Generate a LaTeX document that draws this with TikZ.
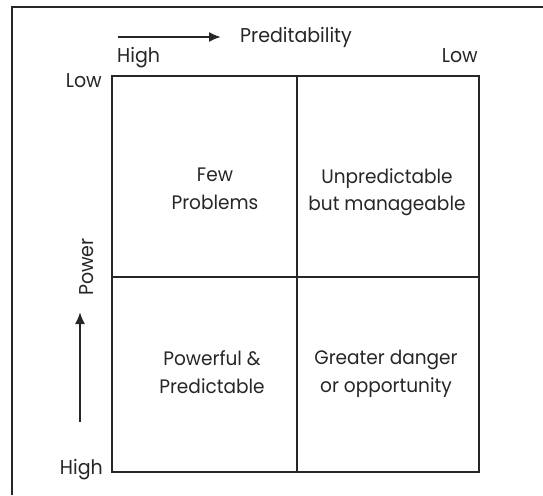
\documentclass[tikz,border=0pt]{standalone}
\usepackage{fontspec}
\setmainfont{Poppins}[FakeStretch=0.95]
\usetikzlibrary{arrows.meta}
\begin{document}
\begin{tikzpicture}[x=1pt,y=-1pt,
  lbl/.style={font=\fontsize{20}{24}\selectfont, inner sep=0pt, text=black!85},
  celltext/.style={font=\fontsize{19.5}{27.5}\selectfont, align=center, inner sep=0pt, text=black!85},
  gridline/.style={line width=1.6pt, black!85},
  axisarrow/.style={line width=2pt, black!85, -{Latex[length=12pt,width=10pt]}}]
\useasboundingbox (0,0) rectangle (543,495);
% outer frame (partially visible)
\draw[line width=1.4pt, black!85] (12,495) -- (12,7) -- (543,7);
% grid
\coordinate (tl) at (112,76);
\coordinate (br) at (479,472);
\draw[gridline] (tl) rectangle (br);
\draw[gridline] (297,76) -- (297,472);
\draw[gridline] (112,277) -- (479,277);
% cell texts
\node[celltext] (c11) at (215,189) {Few\\Problems};
\node[celltext] (c12) at (387,192) {Unpredictable\\but manageable};
\node[celltext] (c21) at (212,372) {Powerful \&\\Predictable};
\node[celltext] (c22) at (386,374) {Greater danger\\or opportunity};
% axis labels
\node[lbl, anchor=base west] (pred) at (240,42) {Preditability};
\coordinate (ha) at (118,37);
\coordinate (hb) at (221,37);
\draw[axisarrow] (ha) -- (hb);
\node[lbl, anchor=base west] (hhigh) at (117,63) {High};
\node[lbl, anchor=base east] (hlow) at (478,63) {Low};
\node[lbl, anchor=base east] (vlow) at (102,88) {Low};
\node[lbl, anchor=base east] (vhigh) at (103,474) {High};
\node[lbl, rotate=90] (power) at (87,267) {Power};
\coordinate (va) at (80,422);
\coordinate (vb) at (80,312);
\draw[axisarrow] (va) -- (vb);
\end{tikzpicture}
\end{document}
